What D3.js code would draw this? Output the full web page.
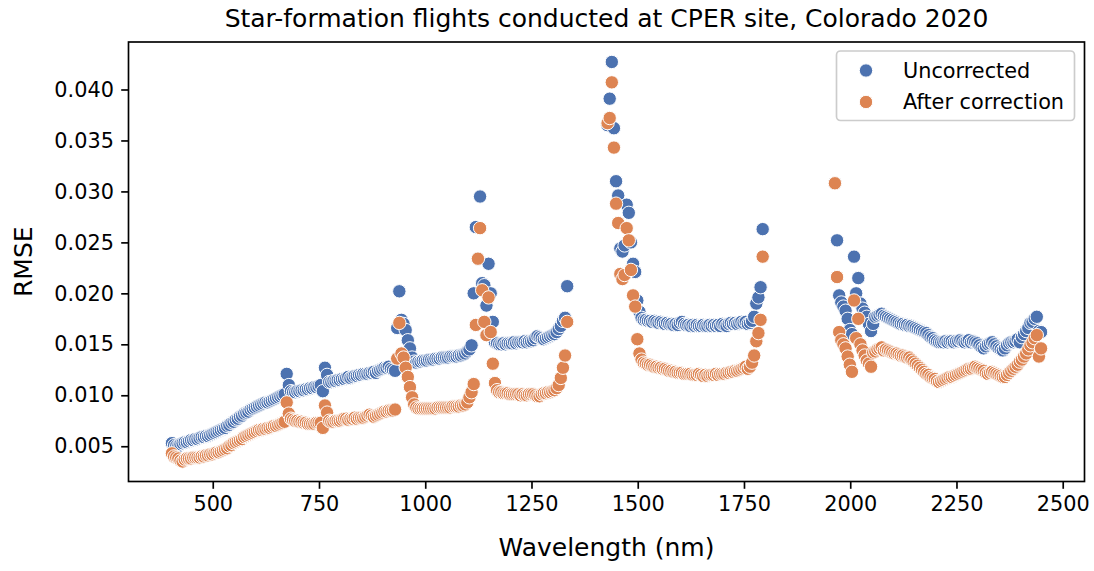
<!DOCTYPE html>
<html>
<head>
<meta charset="utf-8">
<script src="https://cdn.jsdelivr.net/npm/d3@7"></script>
<style>
  body { margin: 0; background: #fff; }
  text { font-family: "DejaVu Sans", sans-serif; fill: #000; }
</style>
</head>
<body>
<div id="chart"></div>
<script>
// band ranges kept after dropping the water absorption windows (nm, 5 nm spacing)
const bandRanges = [[404, 1334], [1429, 1794], [1964, 2449]];

const seriesNames = ['Uncorrected', 'After correction'];

// RMSE per band, before correction
const uncorrected = [
  // 404 - 649
  0.0053, 0.0051, 0.0050, 0.0050, 0.0052, 0.0053, 0.0054, 0.0054, 0.0055, 0.0056,
  0.0056, 0.0057, 0.0057, 0.0058, 0.0059, 0.0059, 0.0060, 0.0060, 0.0061, 0.0062,
  0.0063, 0.0064, 0.0065, 0.0066, 0.0067, 0.0068, 0.0070, 0.0071, 0.0073, 0.0074,
  0.0076, 0.0077, 0.0079, 0.0080, 0.0082, 0.0083, 0.0084, 0.0086, 0.0087, 0.0088,
  0.0089, 0.0090, 0.0091, 0.0092, 0.0093, 0.0093, 0.0094, 0.0095, 0.0096, 0.0097,
  // 654 - 899
  0.0098, 0.0099, 0.0100, 0.0101, 0.0121, 0.0110, 0.0104, 0.0103, 0.0103, 0.0104,
  0.0104, 0.0105, 0.0105, 0.0106, 0.0106, 0.0107, 0.0107, 0.0108, 0.0108, 0.0109,
  0.0110, 0.0104, 0.0127, 0.0120, 0.0113, 0.0113, 0.0114, 0.0114, 0.0115, 0.0115,
  0.0116, 0.0116, 0.0117, 0.0118, 0.0117, 0.0118, 0.0119, 0.0119, 0.0120, 0.0120,
  0.0121, 0.0121, 0.0121, 0.0122, 0.0122, 0.0123, 0.0122, 0.0124, 0.0125, 0.0126,
  // 904 - 1149
  0.0127, 0.0127, 0.0128, 0.0126, 0.0125, 0.0124, 0.0166, 0.0202, 0.0174, 0.0170,
  0.0164, 0.0154, 0.0146, 0.0137, 0.0133, 0.0132, 0.0133, 0.0133, 0.0134, 0.0134,
  0.0134, 0.0135, 0.0135, 0.0135, 0.0136, 0.0136, 0.0136, 0.0137, 0.0137, 0.0137,
  0.0137, 0.0138, 0.0138, 0.0138, 0.0138, 0.0139, 0.0139, 0.0140, 0.0141, 0.0143,
  0.0145, 0.0149, 0.0200, 0.0265, 0.0234, 0.0295, 0.0210, 0.0208, 0.0188, 0.0229,
  // 1154 - 1334
  0.0200, 0.0172, 0.0152, 0.0151, 0.0150, 0.0150, 0.0151, 0.0150, 0.0151, 0.0151,
  0.0151, 0.0152, 0.0151, 0.0152, 0.0152, 0.0152, 0.0153, 0.0152, 0.0153, 0.0153,
  0.0154, 0.0156, 0.0158, 0.0157, 0.0156, 0.0155, 0.0156, 0.0157, 0.0158, 0.0159,
  0.0160, 0.0162, 0.0165, 0.0168, 0.0173, 0.0176, 0.0207,
  // 1429 - 1794
  0.0365, 0.0391, 0.0427, 0.0362, 0.0310, 0.0296, 0.0244, 0.0241, 0.0247, 0.0287,
  0.0279, 0.0250, 0.0229, 0.0221, 0.0193, 0.0182, 0.0176, 0.0174, 0.0174, 0.0173,
  0.0173, 0.0172, 0.0173, 0.0172, 0.0171, 0.0172, 0.0171, 0.0170, 0.0171, 0.0170,
  0.0170, 0.0169, 0.0170, 0.0169, 0.0171, 0.0172, 0.0170, 0.0169, 0.0169, 0.0168,
  0.0169, 0.0168, 0.0169, 0.0168, 0.0168, 0.0169, 0.0168, 0.0168, 0.0169, 0.0168,
  0.0169, 0.0168, 0.0169, 0.0168, 0.0170, 0.0169, 0.0168, 0.0170, 0.0171, 0.0170,
  0.0171, 0.0170, 0.0171, 0.0172, 0.0171, 0.0172, 0.0170, 0.0171, 0.0173, 0.0177,
  0.0190, 0.0196, 0.0206, 0.0263,
  // 1964 - 2449
  0.0308, 0.0252, 0.0198, 0.0191, 0.0187, 0.0183, 0.0175, 0.0164, 0.0160, 0.0236,
  0.0200, 0.0215, 0.0190, 0.0185, 0.0181, 0.0177, 0.0170, 0.0163, 0.0170, 0.0177,
  0.0178, 0.0179, 0.0180, 0.0178, 0.0177, 0.0176, 0.0175, 0.0174, 0.0173, 0.0172,
  0.0171, 0.0170, 0.0170, 0.0169, 0.0169, 0.0168, 0.0168, 0.0167, 0.0166, 0.0165,
  0.0164, 0.0163, 0.0162, 0.0161, 0.0159, 0.0157, 0.0156, 0.0154, 0.0153, 0.0152,
  0.0152, 0.0152, 0.0153, 0.0152, 0.0153, 0.0153, 0.0152, 0.0153, 0.0153, 0.0154,
  0.0153, 0.0152, 0.0153, 0.0154, 0.0152, 0.0153, 0.0152, 0.0151, 0.0149, 0.0147,
  0.0146, 0.0148, 0.0150, 0.0151, 0.0152, 0.0150, 0.0148, 0.0146, 0.0145, 0.0144,
  0.0146, 0.0149, 0.0151, 0.0152, 0.0152, 0.0153, 0.0155, 0.0152, 0.0157, 0.0160,
  0.0163, 0.0166, 0.0171, 0.0172, 0.0175, 0.0177, 0.0163, 0.0162
];

// RMSE per band, after correction
const corrected = [
  // 404 - 649
  0.0043, 0.0040, 0.0039, 0.0038, 0.0036, 0.0035, 0.0037, 0.0038, 0.0038, 0.0038,
  0.0039, 0.0039, 0.0039, 0.0039, 0.0040, 0.0040, 0.0041, 0.0041, 0.0042, 0.0042,
  0.0043, 0.0044, 0.0044, 0.0045, 0.0046, 0.0047, 0.0048, 0.0050, 0.0051, 0.0053,
  0.0054, 0.0055, 0.0056, 0.0057, 0.0059, 0.0060, 0.0061, 0.0062, 0.0063, 0.0064,
  0.0065, 0.0066, 0.0066, 0.0067, 0.0067, 0.0068, 0.0068, 0.0069, 0.0070, 0.0070,
  // 654 - 899
  0.0071, 0.0072, 0.0073, 0.0074, 0.0093, 0.0082, 0.0077, 0.0076, 0.0075, 0.0075,
  0.0074, 0.0074, 0.0073, 0.0073, 0.0072, 0.0072, 0.0072, 0.0072, 0.0073, 0.0073,
  0.0073, 0.0068, 0.0090, 0.0083, 0.0075, 0.0074, 0.0074, 0.0075, 0.0075, 0.0075,
  0.0076, 0.0077, 0.0077, 0.0076, 0.0077, 0.0077, 0.0078, 0.0077, 0.0078, 0.0078,
  0.0078, 0.0079, 0.0080, 0.0081, 0.0080, 0.0079, 0.0080, 0.0081, 0.0082, 0.0083,
  // 904 - 1149
  0.0084, 0.0084, 0.0085, 0.0085, 0.0085, 0.0086, 0.0136, 0.0171, 0.0141, 0.0137,
  0.0127, 0.0118, 0.0108, 0.0098, 0.0091, 0.0088, 0.0087, 0.0087, 0.0087, 0.0087,
  0.0087, 0.0087, 0.0087, 0.0087, 0.0087, 0.0088, 0.0088, 0.0088, 0.0088, 0.0088,
  0.0088, 0.0088, 0.0089, 0.0089, 0.0089, 0.0089, 0.0090, 0.0090, 0.0091, 0.0093,
  0.0098, 0.0103, 0.0111, 0.0169, 0.0234, 0.0264, 0.0203, 0.0172, 0.0159, 0.0196,
  // 1154 - 1334
  0.0162, 0.0131, 0.0112, 0.0105, 0.0103, 0.0103, 0.0102, 0.0102, 0.0102, 0.0101,
  0.0101, 0.0101, 0.0101, 0.0101, 0.0100, 0.0101, 0.0100, 0.0100, 0.0101, 0.0101,
  0.0101, 0.0100, 0.0099, 0.0099, 0.0101, 0.0102, 0.0102, 0.0103, 0.0103, 0.0104,
  0.0105, 0.0107, 0.0110, 0.0117, 0.0127, 0.0139, 0.0172,
  // 1429 - 1794
  0.0367, 0.0372, 0.0407, 0.0343, 0.0288, 0.0269, 0.0219, 0.0214, 0.0218, 0.0264,
  0.0252, 0.0223, 0.0198, 0.0187, 0.0155, 0.0141, 0.0135, 0.0132, 0.0131, 0.0130,
  0.0130, 0.0129, 0.0128, 0.0128, 0.0127, 0.0127, 0.0126, 0.0126, 0.0125, 0.0124,
  0.0124, 0.0123, 0.0123, 0.0122, 0.0122, 0.0122, 0.0121, 0.0121, 0.0121, 0.0121,
  0.0120, 0.0120, 0.0120, 0.0121, 0.0120, 0.0119, 0.0120, 0.0119, 0.0120, 0.0120,
  0.0120, 0.0121, 0.0120, 0.0121, 0.0121, 0.0121, 0.0122, 0.0122, 0.0123, 0.0123,
  0.0124, 0.0124, 0.0125, 0.0126, 0.0127, 0.0128, 0.0126, 0.0128, 0.0132, 0.0139,
  0.0153, 0.0161, 0.0174, 0.0236,
  // 1964 - 2449
  0.0308, 0.0216, 0.0162, 0.0154, 0.0150, 0.0146, 0.0138, 0.0130, 0.0123, 0.0193,
  0.0156, 0.0175, 0.0150, 0.0144, 0.0139, 0.0134, 0.0131, 0.0128, 0.0142, 0.0143,
  0.0145, 0.0146, 0.0147, 0.0144, 0.0145, 0.0144, 0.0143, 0.0142, 0.0141, 0.0141,
  0.0140, 0.0139, 0.0139, 0.0138, 0.0137, 0.0137, 0.0135, 0.0133, 0.0131, 0.0129,
  0.0127, 0.0125, 0.0123, 0.0121, 0.0120, 0.0118, 0.0117, 0.0116, 0.0114, 0.0113,
  0.0114, 0.0115, 0.0116, 0.0117, 0.0118, 0.0118, 0.0119, 0.0120, 0.0121, 0.0122,
  0.0123, 0.0124, 0.0125, 0.0126, 0.0126, 0.0127, 0.0128, 0.0127, 0.0126, 0.0125,
  0.0124, 0.0122, 0.0121, 0.0122, 0.0123, 0.0122, 0.0121, 0.0120, 0.0119, 0.0118,
  0.0118, 0.0120, 0.0122, 0.0124, 0.0126, 0.0128, 0.0130, 0.0133, 0.0135, 0.0138,
  0.0141, 0.0145, 0.0149, 0.0152, 0.0156, 0.0159, 0.0138, 0.0146
];

const xTicks = [500, 750, 1000, 1250, 1500, 1750, 2000, 2250, 2500];
const yTicks = [0.005, 0.010, 0.015, 0.020, 0.025, 0.030, 0.035, 0.040];

const colors = ['#4c72b0', '#dd8452'];

const width = 1094;
const height = 571;
const plot = { left: 128.5, top: 42, right: 1084.5, bottom: 481.5 };
const markerR = 6.7;

const wavelengths = bandRanges.flatMap(([a, b]) => d3.range(a, b + 1, 5));

// long-form rows, uncorrected first so the corrected points sit on top
const rows = [];
[uncorrected, corrected].forEach((vals, s) => {
  vals.forEach((v, i) => rows.push({ wl: wavelengths[i], rmse: v, series: s }));
});

// 5% padding on both axes
function padded(ext) {
  const p = (ext[1] - ext[0]) * 0.05;
  return [ext[0] - p, ext[1] + p];
}

const x = d3.scaleLinear()
  .domain(padded(d3.extent(rows, d => d.wl)))
  .range([plot.left, plot.right]);

const y = d3.scaleLinear()
  .domain(padded(d3.extent(rows, d => d.rmse)))
  .range([plot.bottom, plot.top]);

const svg = d3.select('#chart').append('svg')
  .attr('width', width)
  .attr('height', height)
  .style('display', 'block');

svg.append('rect')
  .attr('width', width)
  .attr('height', height)
  .attr('fill', '#fff');

// points
svg.append('g')
  .selectAll('circle')
  .data(rows)
  .enter().append('circle')
    .attr('cx', d => x(d.wl))
    .attr('cy', d => y(d.rmse))
    .attr('r', markerR)
    .attr('fill', d => colors[d.series])
    .attr('stroke', '#fff')
    .attr('stroke-width', 1);

// axes
const xAxis = svg.append('g')
  .attr('transform', 'translate(0,' + plot.bottom + ')')
  .call(d3.axisBottom(x).tickValues(xTicks).tickFormat(d3.format('d'))
    .tickSize(7.3).tickPadding(7.3).tickSizeOuter(0));

const yAxis = svg.append('g')
  .attr('transform', 'translate(' + plot.left + ',0)')
  .call(d3.axisLeft(y).tickValues(yTicks).tickFormat(d3.format('.3f'))
    .tickSize(7.3).tickPadding(7.3).tickSizeOuter(0));

[xAxis, yAxis].forEach(ax => {
  ax.select('.domain').remove();
  ax.selectAll('.tick line').attr('stroke', '#000').attr('stroke-width', 1.67);
  ax.selectAll('.tick text')
    .attr('fill', '#000')
    .style('font-family', '"DejaVu Sans", sans-serif')
    .style('font-size', '20.8px');
});

// frame
svg.append('rect')
  .attr('x', plot.left)
  .attr('y', plot.top)
  .attr('width', plot.right - plot.left)
  .attr('height', plot.bottom - plot.top)
  .attr('fill', 'none')
  .attr('stroke', '#000')
  .attr('stroke-width', 1.67);

// title and axis labels
svg.append('text')
  .attr('x', (plot.left + plot.right) / 2)
  .attr('y', 27)
  .attr('text-anchor', 'middle')
  .style('font-size', '25px')
  .text('Star-formation flights conducted at CPER site, Colorado 2020');

svg.append('text')
  .attr('x', (plot.left + plot.right) / 2)
  .attr('y', 556)
  .attr('text-anchor', 'middle')
  .style('font-size', '25px')
  .text('Wavelength (nm)');

svg.append('text')
  .attr('transform', 'translate(32,' + (plot.top + plot.bottom) / 2 + ') rotate(-90)')
  .attr('text-anchor', 'middle')
  .style('font-size', '25px')
  .text('RMSE');

// legend
const legend = svg.append('g').attr('transform', 'translate(836.5,51)');

legend.append('rect')
  .attr('width', 238)
  .attr('height', 69.5)
  .attr('rx', 4)
  .attr('fill', '#fff')
  .attr('fill-opacity', 0.8)
  .attr('stroke', '#cccccc')
  .attr('stroke-width', 1.67);

const item = legend.selectAll('g.item')
  .data(seriesNames)
  .enter().append('g')
    .attr('class', 'item')
    .attr('transform', (d, i) => 'translate(0,' + (19.5 + i * 31.5) + ')');

item.append('circle')
  .attr('cx', 29.5)
  .attr('r', markerR)
  .attr('fill', (d, i) => colors[i])
  .attr('stroke', '#fff')
  .attr('stroke-width', 1);

item.append('text')
  .attr('x', 66.5)
  .attr('dy', '0.35em')
  .style('font-size', '20.8px')
  .text(d => d);
</script>
</body>
</html>
